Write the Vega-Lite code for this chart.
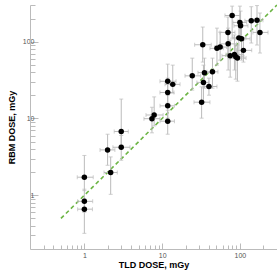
{
  "$schema": "https://vega.github.io/schema/vega-lite/v6.json",
  "width": 247,
  "height": 244,
  "autosize": {"type": "none"},
  "padding": {"left": 30, "top": 5, "right": 0, "bottom": 22},
  "background": "white",
  "config": {
    "view": {"stroke": null},
    "axis": {
      "grid": false,
      "domainColor": "#bbbbbb",
      "tickColor": "#bbbbbb",
      "labelColor": "#555555",
      "labelFont": "Liberation Sans",
      "labelFontSize": 7,
      "titleFont": "Liberation Sans",
      "titleFontSize": 9,
      "titleFontWeight": "bold",
      "titleColor": "#000000"
    }
  },
  "datasets": {
    "pts": [
      {"x": 1.0, "xlo": 0.81, "xhi": 1.30, "y": 1.72, "ylo": 1.15, "yhi": 3.3},
      {"x": 1.0, "xlo": 0.82, "xhi": 1.28, "y": 0.835, "ylo": 0.6, "yhi": 1.2},
      {"x": 1.0, "xlo": 0.82, "xhi": 1.27, "y": 0.66, "ylo": 0.32, "yhi": 0.9},
      {"x": 1.99, "xlo": 1.59, "xhi": 2.47, "y": 3.9, "ylo": 2.46, "yhi": 6.24},
      {"x": 2.18, "xlo": 1.79, "xhi": 2.65, "y": 1.98, "ylo": 1.03, "yhi": 3.16},
      {"x": 2.98, "xlo": 2.42, "xhi": 3.67, "y": 6.77, "ylo": 4.5, "yhi": 17.9},
      {"x": 2.98, "xlo": 2.33, "xhi": 3.86, "y": 4.22, "ylo": 2.86, "yhi": 6.0},
      {"x": 7.4, "xlo": 5.84, "xhi": 9.38, "y": 9.94, "ylo": 6.5, "yhi": 14},
      {"x": 7.9, "xlo": 6.2, "xhi": 10.3, "y": 11.1, "ylo": 8, "yhi": 19.1},
      {"x": 11.8, "xlo": 9.38, "xhi": 15.1, "y": 30.5, "ylo": 20.1, "yhi": 51},
      {"x": 13.7, "xlo": 10.9, "xhi": 17.0, "y": 27.8, "ylo": 21.4, "yhi": 49.5},
      {"x": 11.8, "xlo": 9.38, "xhi": 14.2, "y": 21.8, "ylo": 15.8, "yhi": 33.5},
      {"x": 11.8, "xlo": 9.4, "xhi": 14.4, "y": 14.6, "ylo": 10.1, "yhi": 22},
      {"x": 11.8, "xlo": 9.4, "xhi": 14.4, "y": 9.22, "ylo": 6.24, "yhi": 12.8},
      {"x": 24.4, "xlo": 19.7, "xhi": 31.3, "y": 35.9, "ylo": 23.4, "yhi": 61},
      {"x": 35.0, "xlo": 28.9, "xhi": 43.7, "y": 39.5, "ylo": 24.8, "yhi": 61},
      {"x": 44.4, "xlo": 37.7, "xhi": 52.2, "y": 40.5, "ylo": 24.8, "yhi": 61},
      {"x": 34.0, "xlo": 28.0, "xhi": 40.0, "y": 29.5, "ylo": 16.5, "yhi": 49.5},
      {"x": 40.0, "xlo": 33.5, "xhi": 50.7, "y": 26.1, "ylo": 20.1, "yhi": 33.5},
      {"x": 32.2, "xlo": 25.7, "xhi": 41.2, "y": 16.3, "ylo": 10.1, "yhi": 25.8},
      {"x": 33.3, "xlo": 26.2, "xhi": 42.8, "y": 91.1, "ylo": 54.2, "yhi": 155},
      {"x": 50.7, "xlo": 41.2, "xhi": 61.1, "y": 81.8, "ylo": 49.5, "yhi": 150},
      {"x": 55.7, "xlo": 47.8, "xhi": 67.6, "y": 85, "ylo": 57.5, "yhi": 133},
      {"x": 70.6, "xlo": 55.4, "xhi": 90.8, "y": 93.6, "ylo": 42.7, "yhi": 150},
      {"x": 75, "xlo": 58.8, "xhi": 94.4, "y": 65.7, "ylo": 34.5, "yhi": 105},
      {"x": 85.1, "xlo": 66.2, "xhi": 109, "y": 68.1, "ylo": 42.7, "yhi": 122},
      {"x": 88.5, "xlo": 70.2, "xhi": 113, "y": 63.6, "ylo": 32.5, "yhi": 90.4},
      {"x": 93, "xlo": 74.5, "xhi": 120, "y": 61.1, "ylo": 30.6, "yhi": 90.4},
      {"x": 111, "xlo": 90.8, "xhi": 142, "y": 77, "ylo": 54.2, "yhi": 105},
      {"x": 70.2, "xlo": 55.4, "xhi": 86.4, "y": 132, "ylo": 66.9, "yhi": 209},
      {"x": 97, "xlo": 81.4, "xhi": 120, "y": 112, "ylo": 66.9, "yhi": 191},
      {"x": 105, "xlo": 86.4, "xhi": 135, "y": 109, "ylo": 57.5, "yhi": 165},
      {"x": 181, "xlo": 147, "xhi": 230, "y": 132, "ylo": 71.1, "yhi": 236},
      {"x": 79.5, "xlo": 64.3, "xhi": 100, "y": 219, "ylo": 111, "yhi": 290},
      {"x": 100, "xlo": 81.4, "xhi": 122, "y": 178, "ylo": 115, "yhi": 290},
      {"x": 102, "xlo": 83.9, "xhi": 127, "y": 161, "ylo": 105, "yhi": 250},
      {"x": 140, "xlo": 116, "xhi": 164, "y": 187, "ylo": 96, "yhi": 285},
      {"x": 166, "xlo": 139, "xhi": 198, "y": 190, "ylo": 90.4, "yhi": 295}
    ],
    "diag": [{"v": 0.5}, {"v": 300}]
  },
  "layer": [
    {
      "data": {"name": "diag"},
      "mark": {"type": "line", "color": "#6cb544", "strokeDash": [4, 3], "strokeWidth": 1.6},
      "encoding": {
        "x": {
          "field": "v", "type": "quantitative", "title": "TLD DOSE, mGy",
          "scale": {"type": "log", "domain": [0.2, 300], "nice": false},
          "axis": {
            "values": [0.3,0.4,0.5,0.6,0.7,0.8,0.9,1,2,3,4,5,6,7,8,9,10,20,30,40,50,60,70,80,90,100,200,300],
            "labelExpr": "(datum.value == 1 || datum.value == 10 || datum.value == 100) ? datum.label : ''",
            "tickSize": {"condition": {"test": "datum.value == 1 || datum.value == 10 || datum.value == 100", "value": -6}, "value": -4},
            "labelPadding": 8,
            "titlePadding": 2
          }
        },
        "y": {
          "field": "v", "type": "quantitative", "title": "RBM DOSE, mGy",
          "scale": {"type": "log", "domain": [0.2, 300], "nice": false},
          "axis": {
            "values": [0.3,0.4,0.5,0.6,0.7,0.8,0.9,1,2,3,4,5,6,7,8,9,10,20,30,40,50,60,70,80,90,100,200,300],
            "labelExpr": "(datum.value == 1 || datum.value == 10 || datum.value == 100) ? datum.label : ''",
            "tickSize": {"condition": {"test": "datum.value == 1 || datum.value == 10 || datum.value == 100", "value": -8}, "value": -5},
            "labelPadding": 4,
            "titlePadding": 6
          }
        }
      }
    },
    {
      "data": {"name": "pts"},
      "mark": {"type": "errorbar", "ticks": {"size": 4, "color": "#bbbbbb"}, "rule": {"color": "#bbbbbb", "strokeWidth": 1}},
      "encoding": {
        "x": {"field": "x", "type": "quantitative", "title": "TLD DOSE, mGy"},
        "y": {"field": "ylo", "type": "quantitative", "title": "RBM DOSE, mGy"},
        "y2": {"field": "yhi"}
      }
    },
    {
      "data": {"name": "pts"},
      "mark": {"type": "errorbar", "ticks": {"size": 4, "color": "#bbbbbb"}, "rule": {"color": "#bbbbbb", "strokeWidth": 1}},
      "encoding": {
        "y": {"field": "y", "type": "quantitative", "title": "RBM DOSE, mGy"},
        "x": {"field": "xlo", "type": "quantitative", "title": "TLD DOSE, mGy"},
        "x2": {"field": "xhi"}
      }
    },
    {
      "data": {"name": "pts"},
      "mark": {"type": "point", "filled": true, "color": "#000000", "opacity": 1, "size": 30},
      "encoding": {
        "x": {"field": "x", "type": "quantitative", "title": "TLD DOSE, mGy"},
        "y": {"field": "y", "type": "quantitative", "title": "RBM DOSE, mGy"}
      }
    }
  ]
}
